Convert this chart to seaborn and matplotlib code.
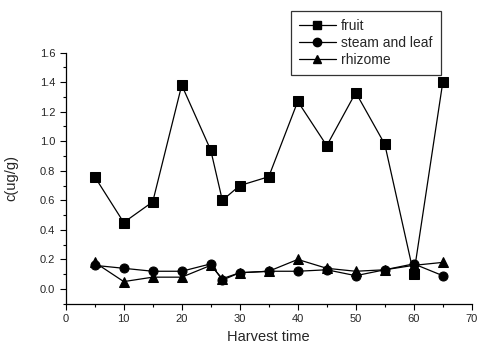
import pandas as pd
import matplotlib.pyplot as plt
import seaborn as sns
from matplotlib.ticker import MultipleLocator

# harvest days and contents
harvest = [5, 10, 15, 20, 25, 27, 30, 35, 40, 45, 50, 55, 60, 65]
fruit = [0.76, 0.45, 0.59, 1.38, 0.94, 0.60, 0.70, 0.76, 1.27, 0.97, 1.33, 0.98, 0.10, 1.40]
steam_leaf = [0.16, 0.14, 0.12, 0.12, 0.17, 0.06, 0.11, 0.12, 0.12, 0.13, 0.09, 0.13, 0.17, 0.09]
rhizome = [0.18, 0.05, 0.08, 0.08, 0.16, 0.07, 0.11, 0.12, 0.20, 0.14, 0.12, 0.13, 0.16, 0.18]

df = pd.DataFrame({'time': harvest, 'fruit': fruit,
                   'steam and leaf': steam_leaf, 'rhizome': rhizome})
long_df = pd.melt(df, id_vars=['time'], var_name='part', value_name='c')

sns.set_style('ticks')
plt.rcParams['font.family'] = ['Liberation Sans', 'DejaVu Sans']

fig = plt.figure(figsize=(4.78, 3.44), dpi=100)
ax = fig.add_axes([0.1375, 0.117, 0.8495, 0.730])

sns.lineplot(data=long_df, x='time', y='c', style='part', color='black',
             markers={'fruit': 's', 'steam and leaf': 'o', 'rhizome': '^'},
             dashes=False, markersize=6.5, markeredgecolor='black',
             linewidth=0.9, ax=ax, legend=False)

ax.set_xlim(0, 70)
ax.set_ylim(-0.1, 1.6)
ax.xaxis.set_major_locator(MultipleLocator(10))
ax.xaxis.set_minor_locator(MultipleLocator(5))
ax.yaxis.set_minor_locator(MultipleLocator(0.1))
ax.set_yticks([0.0, 0.2, 0.4, 0.6, 0.8, 1.0, 1.2, 1.4, 1.6])
ax.set_yticklabels(['0.0', '0.2', '0.4', '0.6', '0.8', '1.0', '1.2', '1.4', '1.6'])
ax.tick_params(which='major', length=4, width=0.8, labelsize=8, direction='out', color='black')
ax.tick_params(which='minor', length=2.5, width=0.8, direction='out', color='black')
for s in ['top', 'right']:
    ax.spines[s].set_visible(False)
for s in ['left', 'bottom']:
    ax.spines[s].set_linewidth(0.9)
    ax.spines[s].set_color('black')

ax.set_xlabel('Harvest time', fontsize=10.5)
ax.set_ylabel('c(ug/g)', fontsize=10.5)
ax.yaxis.set_label_coords(-0.117, 0.5)

# legend handles built to look like line-marker-line entries
handles = [plt.Line2D([], [], color='black', marker=m, markersize=6, linewidth=0.9)
           for m in ['s', 'o', '^']]
leg = fig.legend(handles, ['fruit', 'steam and leaf', 'rhizome'],
                 loc='upper left', bbox_to_anchor=(0.609, 0.968),
                 borderaxespad=0, frameon=True, fancybox=False, edgecolor='black',
                 fontsize=10, handlelength=2.6, labelspacing=0.2,
                 borderpad=0.6, handletextpad=0.4)
leg.get_frame().set_linewidth(0.9)

plt.savefig('out.png', dpi=100)
